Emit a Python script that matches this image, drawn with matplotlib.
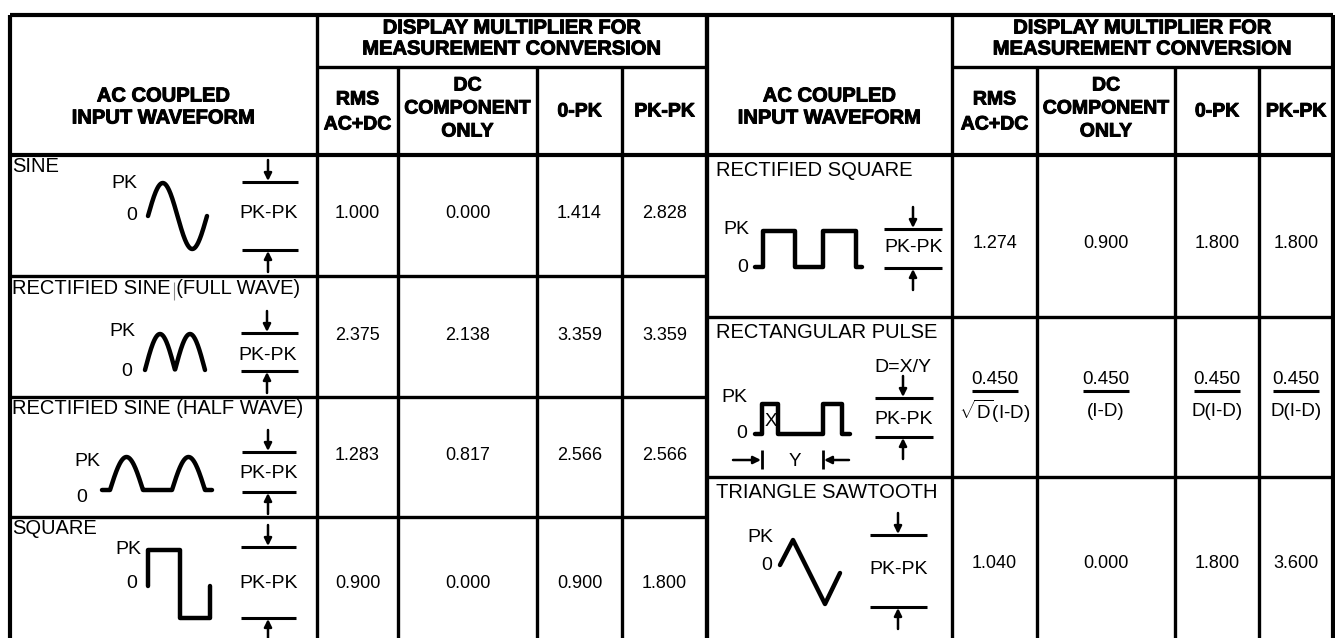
import numpy as np
import matplotlib
matplotlib.use("Agg")
import matplotlib.pyplot as plt
import matplotlib.patheffects as pe

plt.rcParams['font.family'] = ['Liberation Sans', 'DejaVu Sans']
plt.rcParams['mathtext.fontset'] = 'custom'
plt.rcParams['mathtext.rm'] = 'Liberation Sans'
plt.rcParams['mathtext.it'] = 'Liberation Sans:italic'
plt.rcParams['mathtext.bf'] = 'Liberation Sans:bold'

# ---------------- data ----------------
header_group = ["DISPLAY MULTIPLIER FOR", "MEASUREMENT CONVERSION"]
header_wave = ["AC COUPLED", "INPUT WAVEFORM"]
col_headers = [["RMS", "AC+DC"], ["DC", "COMPONENT", "ONLY"], ["0-PK"], ["PK-PK"]]

left_waveforms = ["SINE", "RECTIFIED SINE (FULL WAVE)", "RECTIFIED SINE (HALF WAVE)", "SQUARE"]
left_rms = ["1.000", "2.375", "1.283", "0.900"]
left_dc = ["0.000", "2.138", "0.817", "0.000"]
left_0pk = ["1.414", "3.359", "2.566", "0.900"]
left_pkpk = ["2.828", "3.359", "2.566", "1.800"]

right_waveforms = ["RECTIFIED SQUARE", "RECTANGULAR PULSE", "TRIANGLE SAWTOOTH"]
right_rms = ["1.274", "0.450", "1.040"]
right_dc = ["0.900", "0.450", "0.000"]
right_0pk = ["1.800", "0.450", "1.800"]
right_pkpk = ["1.800", "0.450", "3.600"]
pulse_denominators = [r"$\sqrt{\mathrm{D}}$(I-D)", "(I-D)", "D(I-D)", "D(I-D)"]

# ---------------- layout (pixel space) ----------------
W, H = 1335, 638
fig = plt.figure(figsize=(W / 100, H / 100), dpi=100)
ax = fig.add_axes([0, 0, 1, 1])
ax.set_xlim(0, W)
ax.set_ylim(H, 0)
ax.axis('off')

K = 'black'
GLW = 2.4   # grid line width
WLW = 3.2   # waveform line width
HEAVY = [pe.withStroke(linewidth=0.7, foreground=K)]

left_cols = [10, 317, 398, 537, 622, 707]
right_cols = [707, 952, 1037, 1175, 1259, 1333]
top, split, hbot = 15, 67, 155
left_rows = [155, 276, 397, 517, 638]
right_rows = [155, 317, 477, 638]


def seg(xs, ys, lw=GLW, **kw):
    ax.plot(xs, ys, color=K, lw=lw, solid_capstyle='butt', **kw)


def txt(x, y, s, size=13, bold=False, ha='center', **kw):
    t = ax.text(x, y, s, fontsize=size, fontweight='bold' if bold else 'normal',
                ha=ha, va='center', color=K, **kw)
    if bold:
        t.set_path_effects(HEAVY)
    return t


# grid lines
for cols, rows in ((left_cols, left_rows), (right_cols, right_rows)):
    seg([cols[0], cols[-1]], [top, top], lw=3)
    seg([cols[1], cols[-1]], [split, split])
    seg([cols[0], cols[-1]], [hbot, hbot], lw=3)
    for r in rows[1:-1]:
        seg([cols[0], cols[-1]], [r, r])
    seg([cols[0], cols[0]], [top, H], lw=3)
    seg([cols[1], cols[1]], [top, H])
    for c in cols[2:-1]:
        seg([c, c], [split, H])
    seg([cols[-1], cols[-1]], [top, H], lw=3)

# headers
for cols in (left_cols, right_cols):
    wc = (cols[0] + cols[1]) / 2
    txt(wc, 96, header_wave[0], size=14.5, bold=True)
    txt(wc, 118, header_wave[1], size=14.5, bold=True)
    gc = (cols[1] + cols[-1]) / 2
    txt(gc, 28, header_group[0], size=14.5, bold=True)
    txt(gc, 49, header_group[1], size=14.5, bold=True)
    centers = [(cols[i] + cols[i + 1]) / 2 for i in range(1, 5)]
    txt(centers[0], 100, col_headers[0][0], size=14, bold=True)
    txt(centers[0], 125, col_headers[0][1], size=14, bold=True)
    for j, yy in enumerate((86, 109, 132)):
        txt(centers[1], yy, col_headers[1][j], size=14, bold=True)
    txt(centers[2], 112, col_headers[2][0], size=14, bold=True)
    txt(centers[3], 112, col_headers[3][0], size=14, bold=True)

# left table values
lcent = [(left_cols[i] + left_cols[i + 1]) / 2 for i in range(1, 5)]
left_val_y = [213, 335, 456, 583]
for i, y in enumerate(left_val_y):
    for c, arr in zip(lcent, (left_rms, left_dc, left_0pk, left_pkpk)):
        txt(c, y, arr[i], size=13)

# right table values
rcent = [(right_cols[i] + right_cols[i + 1]) / 2 for i in range(1, 5)]
for i, y in ((0, 243), (2, 564)):
    for c, arr in zip(rcent, (right_rms, right_dc, right_0pk, right_pkpk)):
        txt(c, y, arr[i], size=13)
for c, arr, den in zip(rcent, (right_rms, right_dc, right_0pk, right_pkpk), pulse_denominators):
    txt(c, 380, arr[1], size=13.5)
    seg([c - 23, c + 23], [391, 391], lw=2.2)
    txt(c, 411, den, size=13.5)

# waveform labels
for name, r in zip(left_waveforms, left_rows[:-1]):
    txt(12, r + 12, name, size=14.5, ha='left')
for name, r in zip(right_waveforms, right_rows[:-1]):
    txt(716, r + 16, name, size=14.5, ha='left')
# faint paste-up mark inside the full wave label
seg([174, 174], [282, 300], lw=0.8, alpha=0.45)


# ---------------- icons ----------------
def arrow(x0, y0, x1, y1):
    ax.annotate('', xy=(x1, y1), xytext=(x0, y0),
                arrowprops=dict(arrowstyle='-|>', color=K, lw=1.8, mutation_scale=11,
                                shrinkA=0, shrinkB=0))


def pkpk(x, x0, x1, ytop, ybot, ytext, arrow_len=22, label="PK-PK"):
    seg([x0, x1], [ytop, ytop], lw=2.2)
    seg([x0, x1], [ybot, ybot], lw=2.2)
    arrow(x, ytop - arrow_len, x, ytop - 1)
    arrow(x, ybot + arrow_len, x, ybot + 1)
    if label:
        txt(x + 1, ytext, label, size=14)


def wave(xs, ys):
    ax.plot(xs, ys, color=K, lw=WLW, solid_capstyle='round', solid_joinstyle='round')


# SINE
txt(124, 183, "PK", size=14)
txt(132, 216, "0", size=14)
t = np.linspace(0, 1, 200)
wave(148 + 59 * t, 216 - 33 * np.sin(2 * np.pi * t))
pkpk(268, 242, 298, 182, 250, 213)

# RECTIFIED SINE FULL WAVE
txt(122, 332, "PK", size=14)
txt(127, 372, "0", size=14)
wave(145 + 60 * t, 370 - 36 * np.abs(np.sin(2 * np.pi * t)))
pkpk(267, 241, 298, 333, 371, 355)

# RECTIFIED SINE HALF WAVE
txt(87, 462, "PK", size=14)
txt(82, 497, "0", size=14)
h = np.linspace(0, 1, 80)
hx = np.concatenate([[102], 110 + 33 * h, 172 + 33 * h, [212]])
hy = np.concatenate([[490], 490 - 33 * np.sin(np.pi * h), 490 - 33 * np.sin(np.pi * h), [490]])
wave(hx, hy)
pkpk(268, 242, 296, 452, 492, 474)

# SQUARE
txt(128, 549, "PK", size=14)
txt(132, 583, "0", size=14)
wave([148, 148, 180, 180, 210, 210], [586, 550, 550, 618, 618, 586])
pkpk(268, 241, 296, 547, 618, 583)

# RECTIFIED SQUARE
txt(736, 229, "PK", size=14)
txt(743, 268, "0", size=14)
wave([755, 763, 763, 795, 795, 823, 823, 856, 856, 862],
     [267, 267, 231, 231, 267, 267, 231, 231, 267, 267])
pkpk(913, 884, 942, 229, 268, 248)

# RECTANGULAR PULSE
txt(903, 367, "D=X/Y", size=14)
txt(734, 397, "PK", size=14)
txt(742, 434, "0", size=14)
wave([755, 762, 762, 778, 778, 823, 823, 842, 842, 850],
     [434, 434, 404, 404, 434, 434, 404, 404, 434, 434])
txt(771, 421, "X", size=13.5)
pkpk(903, 875, 933, 398, 437, 420)
seg([762, 762], [450, 469], lw=2.0)
seg([823, 823], [450, 469], lw=2.0)
arrow(733, 460, 761, 460)
arrow(849, 460, 824, 460)
txt(795, 462, "Y", size=13.5)

# TRIANGLE SAWTOOTH
txt(760, 538, "PK", size=14)
txt(767, 566, "0", size=14)
wave([780, 793, 825, 840], [565, 540, 604, 573])
pkpk(898, 870, 927, 535, 607, 570)

fig.savefig("out.png", dpi=100, facecolor='white')
